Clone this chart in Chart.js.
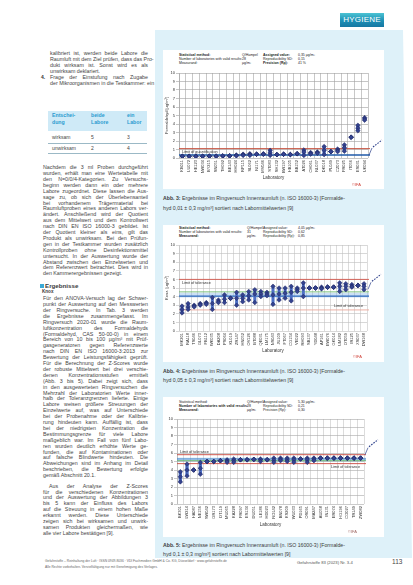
<!DOCTYPE html>
<html lang="de">
<head>
<meta charset="utf-8">
<script src="https://cdn.jsdelivr.net/npm/chart.js@4.4.1/dist/chart.umd.min.js"></script>
<style>
  html,body{margin:0;padding:0;}
  body{width:413px;height:585px;position:relative;overflow:hidden;background:#fff;font-family:"Liberation Sans",Arial,sans-serif;color:#333;}
  .abs{position:absolute;}
  .panel{position:absolute;left:155px;top:30px;width:257px;height:528px;background:#def1f9;clip-path:polygon(0 0,248px 0,100% 100%,0 100%);}
  .box{position:absolute;background:#fff;}
  .tag{position:absolute;left:340px;top:13px;width:44px;height:14px;background:linear-gradient(180deg,#4cc3d3 0%,#1d8fb5 55%,#1677a2 100%);color:#fff;font-size:8px;line-height:14px;text-align:center;letter-spacing:0.2px;}
  .ln{position:absolute;left:43px;width:105px;height:5.9px;font-size:5.3px;line-height:5.9px;white-space:nowrap;text-align:justify;text-align-last:justify;color:#444;}
  .ln.last{text-align-last:left;}
  .cap{position:absolute;left:163px;font-size:5.2px;line-height:6px;white-space:nowrap;color:#3a3a3a;}
  .hd{position:absolute;font-size:3.5px;line-height:4px;white-space:nowrap;color:#222;}
  .hd b{font-weight:bold;}
  .src{position:absolute;font-size:4px;color:#d0433a;white-space:nowrap;}
  .th{position:absolute;font-size:5.2px;line-height:6.5px;color:#2a9bd0;font-weight:bold;}
  .td{position:absolute;font-size:5px;line-height:6px;color:#444;}
  .rule{position:absolute;left:48px;width:99px;height:0.6px;background:#9bb9c6;}
  canvas{position:absolute;}
</style>
</head>
<body>
<script>
// ---------------- DATA ----------------
const yTickValues = [0,1,2,3,4,5,6,7,8,9,10];

// Abb. 3
const labs1 = ["KB011","LU072","HE123","NW034","BY215","SN051","TH092","BE143","HH024","RP115","SL062","NI171","MV046","ST083","SH132","BW197","HB105","BB152","AT026","CH061","NL037","DK018","PL049","CZ073","FR025","IT056","ES031","UK094"];
const abb3RepA = [0.20,0.20,0.20,0.20,0.22,0.22,0.24,0.25,0.25,0.30,0.30,0.45,0.45,0.30,0.40,0.45,0.40,0.50,0.30,0.45,0.55,0.40,0.75,0.75,0.80,2.45,3.20,4.45];
const abb3RepB = [0.20,0.20,0.22,0.20,0.22,0.20,0.24,0.25,0.30,0.40,0.45,0.45,0.50,0.60,0.40,0.45,0.42,0.50,0.70,0.55,0.65,0.90,0.75,0.90,1.20,2.45,3.50,4.60];
const abb3RepC = [0.20,0.22,0.20,0.20,0.20,0.22,0.24,0.25,0.35,0.45,0.50,0.45,0.45,0.90,0.40,0.45,0.40,0.50,0.95,0.65,0.70,1.35,0.75,1.05,1.55,2.45,3.85,4.75];
const abb3Upper = 1.1;
const abb3Assigned = 0.35;

// Abb. 4
const labs2 = ["MK201","RA118","TS046","GL073","FB112","WK035","DA208","PS064","KL019","ZR147","HN052","OV126","BT088","QE031","LM175","NS043","JU109","FT067","CG154","VE022","RH093","SB137","YD048","AP161","EW076","GK014","UM182","OT059","IR125","XS037","DW168"];
const abb4RepA = [2.1,2.5,2.8,3.0,3.1,2.5,3.3,3.3,3.8,3.0,3.4,3.6,3.3,4.0,4.1,3.1,3.6,3.8,3.5,4.6,4.0,5.0,5.0,4.9,5.1,5.1,4.6,4.8,5.1,5.3,4.8];
const abb4RepB = [2.5,2.8,2.9,3.1,3.2,3.2,3.4,3.7,3.8,3.8,3.8,4.1,4.3,4.3,4.3,4.2,4.3,4.4,4.5,4.8,5.0,5.0,5.0,5.0,5.1,5.1,5.2,5.2,5.2,5.3,5.2];
const abb4RepC = [2.9,3.2,3.0,3.2,3.3,3.9,3.6,4.2,3.8,4.5,4.2,4.6,4.8,4.6,4.5,5.2,5.0,5.0,5.2,5.0,5.6,5.0,5.0,5.1,5.1,5.1,5.6,5.5,5.4,5.3,5.5];
const abb4Upper = 6.0;
const abb4Lower = 2.45;
const abb4Assigned = 4.05;
const abb4Median = 4.55;
const abb4Band = [3.9, 4.45];

// Abb. 5
const labs3 = ["BK301","LW214","HA087","NE156","SW042","GR173","DT119","MU065","KA228","FR097","ES134","DU051","LE186","HD023","RO142","BN078","KS209","WU033","PD165","OS091","MA247","AU058","IN131","ER074","HG196","CO027","TR149","ZW082"];
const abb5RepA = [2.6,3.3,4.0,3.5,5.0,5.0,5.1,4.9,4.9,5.2,5.2,5.25,5.0,5.2,4.9,5.1,5.0,4.9,5.3,4.9,5.1,5.4,5.4,5.4,5.4,5.4,5.4,5.4];
const abb5RepB = [3.2,4.0,4.0,4.2,5.0,5.0,5.1,5.05,5.1,5.2,5.2,5.25,5.2,5.2,5.15,5.25,5.2,5.2,5.3,5.2,5.3,5.4,5.4,5.4,5.4,5.4,5.4,5.4];
const abb5RepC = [3.8,4.7,4.0,4.9,5.0,5.0,5.1,5.2,5.3,5.2,5.2,5.25,5.3,5.2,5.4,5.4,5.4,5.4,5.3,5.4,5.4,5.4,5.4,5.4,5.4,5.4,5.4,5.4];
const abb5Upper = 5.8;
const abb5Lower = 4.75;
const abb5Assigned = 5.3;
const abb5Median = 5.1;
const abb5Band = [5.0, 5.45];
</script>

<div class="tag">HYGIENE</div>
<div class="panel"></div>
<div class="box" style="left:163px;top:50px;width:221px;height:139px;"></div>
<div class="box" style="left:163px;top:225px;width:221px;height:137px;"></div>
<div class="box" style="left:163px;top:397px;width:221px;height:140px;"></div>

<!-- chart headers -->
<div class="hd" style="left:179px;top:53px"><b>Statistical method:</b></div>
<div class="hd" style="left:179px;top:57px">Number of laboratories with valid results:</div>
<div class="hd" style="left:179px;top:61px">Measurand:</div>
<div class="hd" style="left:242px;top:53px">Q/Hampel</div>
<div class="hd" style="left:242px;top:57px">28</div>
<div class="hd" style="left:242px;top:61px">µg/m³</div>
<div class="hd" style="left:263px;top:53px"><b>Assigned value:</b></div>
<div class="hd" style="left:263px;top:57px">Reproducibility SD:</div>
<div class="hd" style="left:263px;top:61px"><b>Precision (Rp):</b></div>
<div class="hd" style="left:298px;top:53px">0,35 µg/m³</div>
<div class="hd" style="left:298px;top:57px">0,15</div>
<div class="hd" style="left:298px;top:61px">41 %</div>

<div class="hd" style="left:179px;top:226px"><b>Statistical method:</b></div>
<div class="hd" style="left:179px;top:230px">Number of laboratories with valid results:</div>
<div class="hd" style="left:179px;top:234px"><b>Measurand:</b></div>
<div class="hd" style="left:247px;top:226px">Q/Hampel</div>
<div class="hd" style="left:247px;top:230px">31</div>
<div class="hd" style="left:247px;top:234px">µg/m³</div>
<div class="hd" style="left:263px;top:226px">Assigned value:</div>
<div class="hd" style="left:263px;top:230px">Reproducibility SD:</div>
<div class="hd" style="left:263px;top:234px">Reproducibility (Rp):</div>
<div class="hd" style="left:298px;top:226px">4,05 µg/m³</div>
<div class="hd" style="left:298px;top:230px">0,62</div>
<div class="hd" style="left:298px;top:234px">0,85</div>

<div class="hd" style="left:179px;top:400px">Statistical method:</div>
<div class="hd" style="left:179px;top:404px"><b>Number of laboratories with valid results:</b></div>
<div class="hd" style="left:179px;top:408px"><b>Measurand:</b></div>
<div class="hd" style="left:247px;top:400px">Q/Hampel</div>
<div class="hd" style="left:247px;top:404px">28</div>
<div class="hd" style="left:247px;top:408px">µg/m³</div>
<div class="hd" style="left:263px;top:400px">Assigned value:</div>
<div class="hd" style="left:263px;top:404px">Reproducibility SD:</div>
<div class="hd" style="left:263px;top:408px">Precision (Rp):</div>
<div class="hd" style="left:298px;top:400px">5,30 µg/m³</div>
<div class="hd" style="left:298px;top:404px">0,21</div>
<div class="hd" style="left:298px;top:408px">0,30</div>

<canvas id="c1" width="225" height="122" style="left:160px;top:66px"></canvas>
<canvas id="c2" width="225" height="121" style="left:160px;top:239px"></canvas>
<canvas id="c3" width="225" height="122" style="left:160px;top:413px"></canvas>

<div class="src" style="left:352px;top:182px">©IFA</div>
<div class="src" style="left:353px;top:354px">©IFA</div>
<div class="src" style="left:348px;top:529px;color:#a06a66">©IFA</div>

<!-- captions -->
<div class="cap" style="top:195px"><b>Abb. 3:</b> Ergebnisse im Ringversuch Innenraumluft (n. ISO 16000-3) [Formalde-</div>
<div class="cap" style="top:205px">hyd 0,01 ± 0,3 mg/m³] sortiert nach Labormittelwerten [9]</div>
<div class="cap" style="top:368px"><b>Abb. 4:</b> Ergebnisse im Ringversuch Innenraumluft (n. ISO 16000-3) [Formalde-</div>
<div class="cap" style="top:377px">hyd 0,05 ± 0,3 mg/m³] sortiert nach Labormittelwerten [9]</div>
<div class="cap" style="top:542px"><b>Abb. 5:</b> Ergebnisse im Ringversuch Innenraumluft (n. ISO 16000-3) [Formalde-</div>
<div class="cap" style="top:551px">hyd 0,1 ± 0,3 mg/m³] sortiert nach Labormittelwerten [9]</div>

<!-- table -->
<div class="abs" style="left:48px;top:111px;width:99px;height:20px;background:#cfeaf7"></div>
<div class="th" style="left:52px;top:112px">Entschei-<br>dung</div>
<div class="th" style="left:91px;top:112px">beide<br>Labore</div>
<div class="th" style="left:127px;top:112px">ein<br>Labor</div>
<div class="rule" style="top:142.5px"></div>
<div class="rule" style="top:153px"></div>
<div class="td" style="left:52px;top:134px">wirksam</div>
<div class="td" style="left:91px;top:134px">5</div>
<div class="td" style="left:127px;top:134px">3</div>
<div class="td" style="left:52px;top:145px">unwirksam</div>
<div class="td" style="left:91px;top:145px">2</div>
<div class="td" style="left:127px;top:145px">4</div>

<div class="abs" style="left:40px;top:284px;width:3.5px;height:3.5px;background:#3aa9d6"></div>
<div class="abs" style="left:45px;top:282px;font-size:6.2px;line-height:7px;font-weight:bold;color:#3a3a3a">Ergebnisse</div>
<div class="abs" style="left:42px;top:289px;font-size:4.6px;line-height:5.5px;font-weight:bold;color:#3a3a3a">Knox</div>
<div class="abs" style="left:41px;top:74.8px;font-size:5px;line-height:5.83px;font-weight:bold;color:#333">4.</div>

<!-- footer -->
<div class="abs" style="left:45px;top:559px;font-size:3.3px;line-height:5px;white-space:nowrap;color:#666">Gefahrstoffe – Reinhaltung der Luft · ISSN 0949-8036 · VDI Fachmedien GmbH &amp; Co. KG, Düsseldorf · www.gefahrstoffe.de</div>
<div class="abs" style="left:45px;top:565px;font-size:3.3px;line-height:5px;white-space:nowrap;color:#666">Alle Rechte vorbehalten. Vervielfältigung nur mit Genehmigung des Verlages.</div>
<div class="abs" style="left:297px;top:560px;font-size:4.2px;line-height:6px;white-space:nowrap;color:#555">Gefahrstoffe 83 (2023) Nr. 3-4</div>
<div class="abs" style="left:392px;top:558px;font-size:6.5px;line-height:8px;color:#444">113</div>

<script>
// -------- body text ----------
const LH = 5.9;
const paraA = [
 "kalibriert ist, werden beide Labore die",
 "Raumluft mit dem Ziel prüfen, dass das Pro-",
 "dukt wirksam ist. Sonst wird es als",
 "unwirksam deklariert."
];
const paraItem = [
 "Frage der Einstufung nach Zugabe",
 "der Mikroorganismen in die Testkammer: ein"
];
const paraC = [
 "Nachdem die 3 ml Proben durchgeführt",
 "wurden, erhält man eine Wertetabelle mit",
 "den N=0/0/4-Kategorien. Zu Versuchs-",
 "beginn werden dann ein oder mehrere",
 "Labore zugeordnet. Diese lassen die Aus-",
 "sage zu, ob sich der Überlebensanteil",
 "bei vorhandenem Trägermaterial bei",
 "Raumluftproben eines anderen Labors ver-",
 "ändert. Anschließend wird der Quotient",
 "aus dem Mittelwert und dem Kontrollwert",
 "nach DIN EN ISO 16000-3 gebildet. Ist",
 "der Quotient kleiner als eins, gilt das",
 "Produkt als unwirksam. Bei den Prüfun-",
 "gen in der Testkammer wurden zusätzlich",
 "Kontrollproben ohne Desinfektionsmittel",
 "untersucht. In der Auswertung wurde der",
 "Abstand zwischen den Einzelwerten und",
 "dem Referenzwert betrachtet. Dies wird in",
 "den Kammerergebnissen gezeigt."
];
const paraD = [
 "Für den ANOVA-Versuch lag der Schwer-",
 "punkt der Auswertung auf den Messwerten",
 "der Ringversuche. In Tab. 3 werden",
 "die Ergebnisse zusammengefasst. Im",
 "Ringversuch 2020-01 wurde die Raum-",
 "luftkonzentration des Formaldehyds",
 "(Formaldehyd, CAS 50-00-0) in einem",
 "Bereich von 10 bis 100 µg/m³ mit Prüf-",
 "gasgeneratoren gegen Referenzwerte",
 "nach DIN EN ISO 16000-3:2013 zur",
 "Bewertung der Leistungsfähigkeit geprüft.",
 "Für die Berechnung der Z-Scores wurde",
 "der robuste Mittelwert bei drei verschie-",
 "denen Konzentrationsstufen ermittelt",
 "(Abb. 3 bis 5). Dabei zeigt sich, dass",
 "in den ausgewerteten Ringversuchen die",
 "Mehrzahl der Laboratorien Werte inner-",
 "halb der Toleranzgrenzen lieferte. Einige",
 "Labore weisen größere Streuungen der",
 "Einzelwerte auf, was auf Unterschiede",
 "bei der Probenahme oder der Kalibrie-",
 "rung hindeuten kann. Auffällig ist, dass",
 "bei der niedrigsten Konzentration die",
 "Bestimmungsgrenze für viele Labore",
 "maßgeblich war. Im Fall von fünf Labo-",
 "ren wurden deutlich erhöhte Werte ge-",
 "funden, die auf Kontaminationen oder",
 "auf falsche Blindwerte hindeuten. Die",
 "Abweichungen sind im Anhang im Detail",
 "beschrieben, die Bewertung erfolgte",
 "gemäß Abschnitt 20.1."
];
const paraE = [
 "Aus der Analyse der Z-Scores",
 "für die verschiedenen Konzentrationen",
 "und der Auswertung der Abbildungen 3",
 "bis 5 kann der Einfluss des Labors",
 "auf die Streuung in einem hohen Maße",
 "erkannt werden. Diese Unterschiede",
 "zeigen sich bei wirksamen und unwirk-",
 "samen Produkten gleichermaßen, wie",
 "alle vier Labore bestätigen [9]."
];
function para(lines, top, left, width, indentFirst) {
  lines.forEach((t, i) => {
    const d = document.createElement('div');
    d.className = 'ln' + (i === lines.length - 1 ? ' last' : '');
    d.style.top = (top + i * LH) + 'px';
    let l = left !== undefined ? left : 43, w = width !== undefined ? width : 105;
    if (i === 0 && indentFirst) { l += indentFirst; w -= indentFirst; }
    d.style.left = l + 'px'; d.style.width = w + 'px';
    d.textContent = t;
    document.body.appendChild(d);
  });
}
para(paraA, 51.4, 50, 98);
para(paraItem, 74.8, 50, 98);
document.body.lastChild.className = 'ln';
para(paraC, 165.1);
para(paraD, 296.1);
para(paraE, 483.6, 43, 105, 6);

// -------- charts ----------
const FONT = "'Liberation Sans', Arial, sans-serif";

const refPlugin = {
  id: 'refLines',
  beforeDatasetsDraw(chart, args, opts) {
    const {ctx, chartArea: {left, right}, scales: {y}} = chart;
    ctx.save();
    (opts.bands || []).forEach(b => {
      const y1 = y.getPixelForValue(b.to), y2 = y.getPixelForValue(b.from);
      ctx.fillStyle = b.color;
      ctx.fillRect(left, y1, right - left + 2, y2 - y1);
    });
    (opts.lines || []).forEach(l => {
      const py = y.getPixelForValue(l.value);
      ctx.strokeStyle = l.color; ctx.lineWidth = l.width;
      ctx.beginPath(); ctx.moveTo(left, py); ctx.lineTo(right + 2, py); ctx.stroke();
    });
    (opts.labels || []).forEach(t => {
      const py = y.getPixelForValue(t.value) + t.dy;
      ctx.font = "3.8px " + FONT;
      ctx.fillStyle = '#333';
      ctx.textBaseline = 'middle';
      if (t.side === 'left') { ctx.textAlign = 'left'; ctx.fillText(t.text, left + 3, py); }
      else { ctx.textAlign = 'right'; ctx.fillText(t.text, right - 4, py); }
    });
    if (opts.arrow !== undefined) {
      const py = y.getPixelForValue(opts.arrow);
      ctx.strokeStyle = '#2b3f8a'; ctx.lineWidth = 0.7;
      ctx.beginPath(); ctx.moveTo(right + 1, py); ctx.lineTo(right + 4, py - 7); ctx.stroke();
      ctx.setLineDash([1.6, 1.2]); ctx.lineWidth = 1.1;
      ctx.beginPath(); ctx.moveTo(right + 5, py - 8); ctx.lineTo(right + 14, py - 15); ctx.stroke();
      ctx.setLineDash([]);
    }
    ctx.restore();
  }
};

function buildChart(id, labels, reps, cfg) {
  const ranges = labels.map((_, i) => {
    const v = reps.map(r => r[i]);
    return [Math.min(...v), Math.max(...v)];
  });
  const datasets = [{
    type: 'bar', data: ranges, backgroundColor: '#4d6fc4', borderWidth: 0,
    barPercentage: 0.5, categoryPercentage: 1, order: 2
  }];
  reps.forEach(r => datasets.push({
    type: 'line', data: r, showLine: false, pointStyle: 'rectRot', pointRadius: 2.3,
    pointBackgroundColor: '#34438f', pointBorderColor: '#1c2560', pointBorderWidth: 0.5, order: 1
  }));
  return new Chart(document.getElementById(id), {
    type: 'bar',
    data: {labels, datasets},
    options: {
      responsive: false, animation: false, events: [],
      layout: {padding: {top: cfg.padTop, right: cfg.padRight, left: 0, bottom: 0}},
      plugins: {legend: {display: false}, tooltip: {enabled: false}, refLines: cfg.ref},
      scales: {
        x: {
          grid: {color: cfg.vGrid, lineWidth: 0.6, offset: true, drawTicks: false},
          border: {display: false},
          ticks: {font: {size: 4, family: FONT}, color: '#333', minRotation: 90, maxRotation: 90, autoSkip: false, padding: 2},
          title: {display: true, text: 'Laboratory', font: {size: 4.5, family: FONT}, color: '#333', padding: {top: 0, bottom: cfg.xTitlePad}},
          afterFit: s => { s.height = cfg.xHeight; }
        },
        y: {
          min: 0, max: 10,
          afterBuildTicks: s => { s.ticks = yTickValues.map(v => ({value: v})); },
          ticks: {font: {size: 4, family: FONT}, color: '#333', padding: 1},
          grid: {color: cfg.hGrid, lineWidth: 0.6, tickLength: 3},
          border: {display: true, color: cfg.hGrid, width: 0.6},
          title: {display: !!cfg.yTitle, text: cfg.yTitle || '', font: {size: 4, family: FONT}, color: '#333', padding: {top: cfg.yTitlePad, bottom: 0}},
          afterFit: s => { s.width = cfg.yWidth; }
        }
      }
    },
    plugins: [refPlugin]
  });
}

buildChart('c1', labs1, [abb3RepA, abb3RepB, abb3RepC], {
  padTop: 7, padRight: 17, yWidth: 19, xHeight: 30, xTitlePad: 7.3, yTitlePad: 4.5,
  yTitle: 'Formaldehyd [µg/m³]', vGrid: '#a2a2a2', hGrid: '#a0a0a0',
  ref: {
    lines: [{value: abb3Upper, color: '#c8513e', width: 1}, {value: abb3Assigned, color: '#1f5aa8', width: 1.6}],
    labels: [{text: 'Limit of quantification', value: abb3Assigned, dy: -3, side: 'left'}],
    arrow: abb3Assigned
  }
});

buildChart('c2', labs2, [abb4RepA, abb4RepB, abb4RepC], {
  padTop: 6, padRight: 18, yWidth: 19, xHeight: 29, xTitlePad: 6.3, yTitlePad: 4.5,
  yTitle: 'Konz. [µg/m³]', vGrid: '#c4c4c4', hGrid: '#bdbdbd',
  ref: {
    bands: [{from: abb4Band[0], to: abb4Band[1], color: 'rgba(110,165,225,0.35)'}],
    lines: [
      {value: abb4Upper, color: '#d2574c', width: 0.9},
      {value: abb4Median, color: '#5fb55f', width: 0.8},
      {value: abb4Assigned, color: '#2f6cc0', width: 1.2},
      {value: abb4Lower, color: '#eba89c', width: 0.9}
    ],
    labels: [
      {text: 'Limit of tolerance', value: abb4Upper, dy: 3.6, side: 'left'},
      {text: 'Limit of tolerance', value: abb4Lower, dy: -4, side: 'right'}
    ],
    arrow: abb4Median + 0.3
  }
});

buildChart('c3', labs3, [abb5RepA, abb5RepB, abb5RepC], {
  padTop: 6, padRight: 21, yWidth: 17, xHeight: 31, xTitlePad: 7.3, yTitlePad: 2,
  yTitle: '', vGrid: '#c4c4c4', hGrid: '#a8a8a8',
  ref: {
    bands: [{from: abb5Band[0], to: abb5Band[1], color: 'rgba(110,165,225,0.35)'}],
    lines: [
      {value: abb5Upper, color: '#c9463d', width: 0.9},
      {value: abb5Assigned, color: '#3a7fc8', width: 0.9},
      {value: abb5Median, color: '#5fb55f', width: 0.8},
      {value: abb5Lower, color: '#c9463d', width: 0.9}
    ],
    labels: [
      {text: 'Limit of tolerance', value: abb5Upper, dy: -3, side: 'left'},
      {text: 'Limit of tolerance', value: abb5Lower, dy: 3.5, side: 'right'}
    ],
    arrow: abb5Upper
  }
});
</script>
</body>
</html>
